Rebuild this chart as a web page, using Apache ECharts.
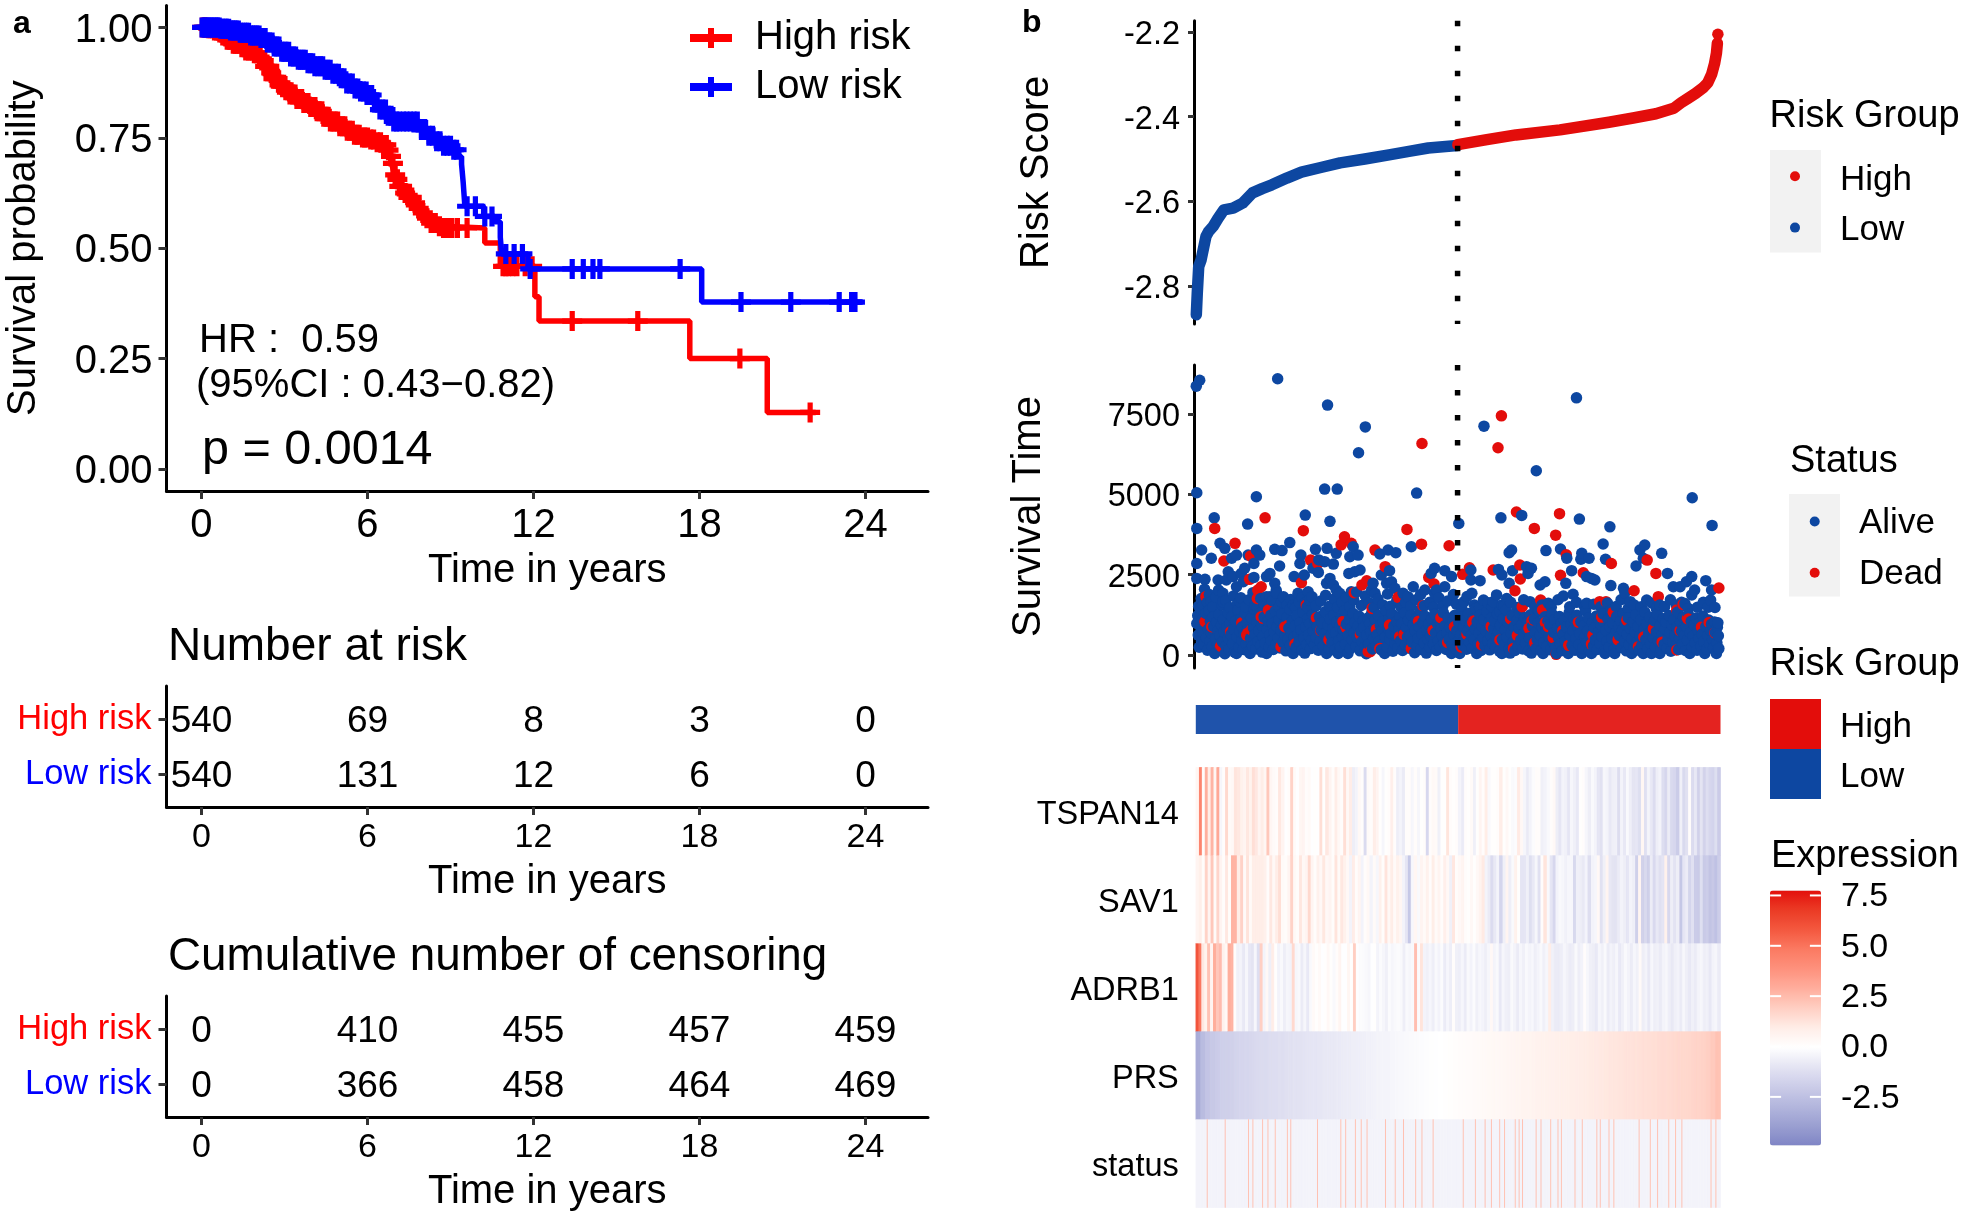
<!DOCTYPE html>
<html><head><meta charset="utf-8">
<style>html,body{margin:0;padding:0;background:#fff}#c{width:1961px;height:1216px}</style>
<script src="https://cdn.jsdelivr.net/npm/echarts@6/dist/echarts.min.js"></script>
</head><body><div id="c"></div>
<script>
// ---------- Panel a: Kaplan-Meier ----------
const timeTicks=[0,6,12,18,24];
const survTicks=[0,0.25,0.5,0.75,1];
const highCurve=[[0,1],[.2,.998],[.43,.993],[.7,.982],[.91,.972],[1.15,.963],[1.39,.955],[1.6,.948],[1.87,.942],[2.05,.933],[2.17,.925],[2.3,.912],[2.47,.897],[2.6,.884],[2.78,.87],[3,.858],[3.2,.848],[3.45,.838],[3.68,.829],[3.9,.82],[4.16,.81],[4.4,.798],[4.64,.787],[5,.776],[5.25,.766],[5.49,.757],[5.8,.751],[6.09,.746],[6.3,.74],[6.57,.734],[6.7,.722],[6.81,.708],[6.87,.692],[6.93,.678],[7,.666],[7.05,.656],[7.15,.64],[7.29,.625],[7.45,.615],[7.65,.603],[7.78,.59],[7.9,.58],[8.05,.568],[8.26,.557],[8.5,.55],[8.74,.546],[10.24,.512],[10.8,.459],[12.05,.39],[12.2,.335],[17.65,.25],[20.45,.128],[22.2,.128]];
const lowCurve=[[0,1],[.67,.997],[1.0,.993],[1.39,.988],[1.75,.982],[2.11,.976],[2.35,.966],[2.6,.957],[2.9,.945],[3.2,.934],[3.5,.927],[3.8,.919],[4.1,.912],[4.4,.904],[4.7,.895],[5,.885],[5.25,.873],[5.49,.862],[5.75,.855],[5.97,.847],[6.2,.83],[6.45,.814],[6.7,.8],[6.93,.787],[7.9,.768],[8.15,.755],[8.38,.742],[8.7,.732],[9.1,.723],[9.3,.708],[9.4,.69],[9.46,.648],[9.52,.595],[10.2,.572],[10.6,.56],[10.8,.525],[10.85,.487],[11.8,.453],[18.08,.378],[23.9,.378]];
const highCensorTimes=[.03,.1,.16,.25,.31,.4,.47,.55,.62,.68,.77,.85,.93,1.0,1.06,1.15,1.22,1.3,1.37,1.46,1.55,1.6,1.7,1.78,1.85,1.95,2.02,2.1,2.18,2.25,2.3,2.38,2.45,2.52,2.6,2.66,2.75,2.82,2.9,2.97,3.05,3.12,3.2,3.3,3.38,3.45,3.55,3.62,3.7,3.78,3.85,3.95,4.02,4.1,4.18,4.25,4.35,4.42,4.5,4.58,4.66,4.75,4.83,4.92,5.0,5.1,5.18,5.27,5.35,5.45,5.53,5.62,5.7,5.82,5.9,6.0,6.12,6.22,6.35,6.47,6.58,6.68,6.76,6.85,6.92,7.0,7.08,7.15,7.25,7.36,7.48,7.6,7.72,7.85,8.0,8.15,8.3,8.45,8.6,8.75,8.9,9.05,9.25,9.6,10.9,11.0,11.1,11.25,11.4,11.7,11.95,13.4,15.77,19.46,22.0];
const lowCensorTimes=[.02,.09,.14,.2,.26,.33,.38,.45,.52,.58,.64,.7,.77,.85,.9,.98,1.05,1.12,1.18,1.25,1.33,1.4,1.47,1.55,1.63,1.7,1.78,1.85,1.92,2.0,2.08,2.15,2.22,2.3,2.38,2.46,2.55,2.63,2.72,2.8,2.9,2.98,3.05,3.15,3.22,3.32,3.4,3.5,3.58,3.67,3.75,3.85,3.93,4.02,4.1,4.2,4.3,4.38,4.47,4.56,4.65,4.75,4.85,4.95,5.05,5.15,5.25,5.35,5.45,5.55,5.65,5.75,5.85,5.95,6.05,6.15,6.25,6.35,6.45,6.55,6.65,6.75,6.85,6.95,7.05,7.15,7.3,7.42,7.55,7.68,7.8,7.95,8.1,8.22,8.35,8.5,8.62,8.75,8.88,9.0,9.12,9.22,9.6,9.9,10.24,10.5,11.0,11.3,11.6,11.88,13.4,13.8,14.15,14.4,17.3,19.5,21.3,23.05,23.5,23.62];
const tableTimes=[0,6,12,18,24];
const highAtRisk=[540,69,8,3,0];
const lowAtRisk=[540,131,12,6,0];
const highCensored=[0,410,455,457,459];
const lowCensored=[0,366,458,464,469];

// ---------- Panel b: risk score (sorted rank, score) ----------
const scoreTicks=[-2.8,-2.6,-2.4,-2.2];
const scoreLow=[[1,-2.868],[3,-2.817],[6,-2.754],[11,-2.738],[21,-2.683],[26,-2.672],[36,-2.659],[46,-2.64],[58,-2.62],[77,-2.616],[97,-2.604],[117,-2.58],[137,-2.57],[157,-2.561],[188,-2.545],[218,-2.531],[258,-2.52],[298,-2.509],[349,-2.5],[399,-2.49],[440,-2.482],[480,-2.474],[540,-2.468]];
const scoreHigh=[[541,-2.466],[601,-2.454],[661,-2.443],[752,-2.431],[853,-2.413],[903,-2.403],[950,-2.393],[987,-2.38],[1002,-2.367],[1017,-2.356],[1032,-2.345],[1047,-2.332],[1057,-2.32],[1065,-2.30],[1071,-2.275],[1075,-2.25],[1077,-2.226]];
const scoreTop=[[1078,-2.205]];

// ---------- Panel b: survival time scatter (rank, days) ----------
const timeAxisTicks=[0,2500,5000,7500];
const aliveUpper=[[1,8370],[8,8555],[169,8600],[272,7780],[350,7100],[336,6295],[595,7125],[786,8005],[703,5735],[2,5050],[125,4925],[266,5165],[292,5165],[456,5040],[1025,4895],[2,3940],[38,4270],[107,4075],[226,4355],[277,4160],[543,4095],[630,4270],[673,4345],[792,4230],[855,3990],[1066,4035]];
const aliveMiddle=[[12,3270],[2,2850],[32,3010],[50,3480],[60,3320],[74,3010],[84,3110],[108,3110],[125,3270],[132,3110],[120,2850],[101,2700],[94,2540],[163,3290],[178,3250],[194,3500],[217,3110],[215,2850],[173,2770],[153,2540],[146,2440],[203,2440],[224,2490],[247,3290],[271,3320],[254,2960],[266,2905],[284,2830],[290,3165],[242,2700],[253,2570],[325,3370],[318,3060],[335,3110],[316,2540],[328,2590],[339,2645],[380,3145],[397,3270],[413,3185],[445,3370],[400,2625],[383,2490],[394,2230],[277,2385],[270,2230],[284,2180],[290,2025],[297,1920],[321,1970],[366,2230],[363,2025],[370,1920],[404,2280],[411,2075],[428,1920],[449,2125],[493,2700],[486,2540],[514,2625],[528,2440],[514,2125],[497,2025],[473,2025],[438,1815],[493,1920],[2,2385],[19,2355],[46,2335],[67,2590],[77,2440],[84,2125],[56,1920],[63,2335],[120,2415],[98,2280],[163,2230],[153,1815],[167,1920],[211,1920],[232,1970],[235,1710],[201,1555],[56,1660],[32,1660],[15,1555],[91,1660],[122,1555],[146,1815],[177,1660],[225,1610],[652,3270],[647,3185],[723,3250],[753,3300],[766,3010],[797,3165],[795,2980],[812,3010],[841,3455],[846,2980],[927,3425],[917,3270],[924,3010],[962,3165],[909,2770],[974,2540],[568,2645],[568,2335],[587,2315],[625,2665],[632,2490],[654,2625],[647,2230],[683,2750],[693,2700],[686,2540],[776,2625],[764,2230],[721,2280],[711,2180],[807,2440],[817,2385],[824,2335],[857,2160],[883,2075],[886,1940],[986,2125],[1000,2125],[1013,2280],[1024,2440],[1053,2315],[1030,2025],[1024,1870],[1065,2025],[1063,1710],[1058,1485],[570,1920],[554,1660],[578,1450],[594,1710],[621,1870],[614,1660],[632,1555],[642,1760],[628,1350],[690,1660],[707,1400],[728,1610],[759,1835],[779,1890],[807,1610],[897,1660],[893,1450],[931,1710],[958,1555],[951,1450],[1003,1640],[1017,1450]];
const aliveShoulder=[[6,1520],[11,1760],[18,2050],[24,1640],[28,1880],[35,1490],[42,1800],[47,2020],[54,1560],[62,1700],[70,1480],[78,1840],[86,1590],[93,1780],[103,1500],[110,1720],[118,1940],[127,1480],[134,1760],[141,1590],[150,1500],[158,1690],[166,2010],[172,1490],[181,1810],[189,1560],[196,1730],[206,1480],[214,1640],[220,1790],[230,1500],[240,1810],[248,1530],[258,1680],[268,1860],[276,1520],[286,1750],[293,1490],[302,1640],[311,1800],[318,1500],[326,1720],[332,1960],[342,1540],[350,1840],[358,1620],[368,1480],[376,1740],[386,1560],[396,1900],[402,1520],[415,1700],[424,1480],[433,1640],[444,1520],[455,1720],[464,1880],[472,1530],[483,1640],[491,1490],[502,1780],[510,1520],[520,1680],[532,1880],[538,1580],[549,1480],[560,1820],[575,1560],[586,1490],[603,1630],[612,1500],[636,1500],[650,1640],[663,1480],[677,1720],[700,1500],[715,1560],[734,1490],[748,1720],[772,1500],[786,1640],[803,1490],[822,1580],[836,1500],[850,1620],[868,1510],[878,1720],[905,1560],[920,1500],[941,1620],[968,1500],[980,1720],[992,1560],[1010,1600],[1036,1490],[1048,1640],[1072,1480]];
const aliveBand=[[2,980],[4,1230],[5,620],[7,240],[9,1450],[10,860],[12,430],[14,1120],[15,700],[17,330],[19,960],[21,1290],[22,540],[24,150],[26,810],[27,1390],[29,420],[30,1050],[32,680],[34,260],[36,1180],[37,890],[39,50],[41,510],[43,1020],[45,330],[46,760],[48,1260],[50,600],[52,160],[53,940],[55,410],[57,1100],[58,720],[60,40],[62,280],[64,860],[66,1320],[67,520],[69,170],[71,980],[73,640],[75,1200],[76,350],[78,800],[80,90],[82,1050],[84,50],[85,560],[87,1400],[89,240],[91,730],[93,1120],[95,450],[96,880],[98,170],[100,620],[102,1280],[104,340],[105,990],[107,770],[109,110],[112,50],[113,520],[115,1150],[117,270],[119,850],[120,1430],[122,640],[124,190],[126,1040],[128,420],[130,760],[132,1300],[134,300],[136,930],[137,90],[139,570],[141,1180],[143,370],[146,50],[147,800],[149,1050],[151,250],[153,640],[155,1240],[156,440],[158,980],[160,170],[162,710],[164,1360],[166,330],[168,880],[170,520],[172,1100],[174,220],[176,760],[178,1280],[180,400],[182,950],[184,620],[186,130],[188,1170],[190,490],[192,840],[194,1420],[195,300],[197,700],[199,1060],[201,50],[203,560],[205,900],[207,240],[209,1230],[211,650],[213,410],[215,1000],[217,780],[219,140],[221,1330],[223,520],[225,60],[227,870],[229,330],[231,1130],[233,620],[235,980],[237,200],[239,460],[241,1260],[243,730],[245,310],[247,1060],[249,540],[251,890],[253,150],[255,1190],[257,420],[259,770],[261,1000],[263,280],[265,650],[267,1350],[270,50],[271,500],[273,930],[275,210],[277,1120],[279,620],[281,380],[283,820],[285,1240],[287,150],[289,690],[291,1030],[294,50],[295,450],[297,870],[299,260],[301,1170],[303,570],[305,780],[307,1380],[309,330],[311,960],[314,50],[315,620],[317,1100],[319,200],[321,830],[323,470],[325,1290],[327,690],[329,1010],[331,280],[333,550],[335,900],[337,1210],[339,130],[341,730],[343,420],[345,1060],[347,860],[349,250],[352,40],[353,620],[355,1150],[357,340],[359,980],[361,720],[363,1300],[365,190],[367,510],[369,860],[371,1090],[373,290],[375,640],[377,1240],[379,430],[381,920],[383,160],[385,770],[387,1040],[390,50],[391,560],[393,1370],[395,250],[397,830],[399,1110],[401,480],[403,680],[405,1280],[407,120],[409,900],[411,370],[413,590],[415,1050],[417,220],[419,780],[421,1190],[423,450],[425,980],[427,140],[429,700],[431,1320],[433,320],[435,850],[437,560],[439,1090],[441,210],[443,630],[445,1240],[447,400],[449,940],[452,70],[453,760],[455,1130],[457,290],[459,520],[461,880],[463,1400],[465,170],[467,650],[469,1020],[471,380],[473,1210],[476,60],[477,780],[479,490],[481,960],[483,240],[485,590],[487,1120],[489,820],[491,330],[493,1270],[495,690],[497,140],[499,970],[501,440],[503,1060],[505,250],[507,820],[509,590],[511,1320],[513,370],[515,920],[517,170],[519,700],[521,1150],[523,480],[525,860],[528,50],[529,300],[531,1040],[533,630],[535,1240],[537,200],[539,760],[541,420],[543,1000],[545,50],[547,640],[549,1180],[551,300],[553,860],[555,520],[557,1080],[559,180],[561,740],[563,1290],[565,400],[567,960],[569,620],[571,210],[573,1130],[575,480],[577,820],[580,50],[581,1040],[583,340],[585,690],[587,1240],[589,140],[591,900],[593,520],[595,1100],[597,280],[599,760],[601,1350],[603,440],[605,990],[607,160],[609,620],[611,1170],[613,350],[615,830],[617,1060],[619,230],[621,560],[623,1280],[625,710],[627,120],[629,930],[632,50],[633,480],[635,1130],[637,300],[639,780],[641,1400],[643,550],[645,1010],[647,190],[649,60],[651,690],[653,1220],[655,390],[657,880],[659,140],[661,600],[663,1070],[665,280],[667,820],[669,1310],[671,470],[673,950],[675,190],[677,650],[679,1160],[681,360],[683,780],[685,1040],[687,130],[689,540],[691,1250],[693,60],[695,900],[697,310],[699,1110],[701,700],[703,210],[705,480],[707,1000],[709,1360],[711,620],[713,130],[715,860],[717,50],[719,390],[721,1190],[723,760],[725,270],[727,1060],[729,560],[731,940],[733,160],[735,1290],[737,430],[739,700],[741,1100],[743,240],[745,50],[747,830],[749,520],[751,1200],[753,340],[755,990],[757,140],[759,650],[761,1080],[763,430],[765,870],[767,210],[769,50],[771,1320],[773,600],[775,960],[777,300],[779,760],[781,1130],[783,150],[785,500],[787,1240],[789,850],[791,330],[793,660],[795,1040],[797,50],[799,220],[801,920],[803,560],[805,1370],[807,390],[809,760],[811,1150],[813,130],[815,620],[817,50],[819,1010],[821,280],[823,840],[825,480],[827,1210],[829,170],[831,700],[833,1080],[835,360],[837,950],[839,580],[841,1280],[843,120],[845,50],[847,770],[849,420],[851,1120],[853,250],[855,880],[857,1390],[859,520],[861,1000],[863,170],[865,50],[867,680],[869,1200],[871,350],[873,900],[875,600],[877,1070],[879,230],[881,780],[883,1300],[885,440],[887,960],[889,130],[891,640],[893,1150],[895,320],[897,830],[900,50],[901,510],[903,1030],[905,210],[907,720],[909,1250],[911,400],[913,890],[915,150],[917,600],[919,1100],[921,300],[924,50],[925,790],[927,1340],[929,480],[931,980],[933,190],[935,670],[937,1180],[939,360],[941,50],[943,850],[945,540],[947,1060],[949,240],[951,720],[953,1280],[955,430],[958,50],[959,920],[961,150],[963,610],[965,1130],[967,330],[969,810],[971,1020],[973,200],[975,500],[977,1230],[979,700],[981,120],[983,940],[985,410],[987,1090],[989,600],[991,280],[993,860],[995,1340],[997,170],[999,520],[1001,1010],[1003,740],[1005,340],[1007,1170],[1009,620],[1011,140],[1013,880],[1015,460],[1017,1260],[1020,50],[1021,700],[1023,1050],[1025,240],[1027,580],[1029,930],[1031,380],[1033,1150],[1035,150],[1037,780],[1039,520],[1041,1020],[1043,280],[1045,650],[1047,1210],[1049,410],[1051,50],[1053,880],[1055,180],[1057,600],[1059,1090],[1061,330],[1063,760],[1065,960],[1067,490],[1069,230],[1071,1030],[1073,700],[1075,50],[1076,380],[1077,860],[1078,1000],[1079,600],[1080,200]];
const deadPoints=[[467,6585],[631,7445],[624,6450],[39,3940],[143,4270],[222,3870],[436,3910],[466,3450],[523,3400],[662,4450],[751,4400],[699,3940],[743,3730],[765,3120],[858,2850],[932,2955],[950,2540],[905,2000],[955,1815],[1080,2085],[753,2480],[669,2800],[670,2365],[659,2000],[614,2645],[551,2510],[565,2715],[307,3680],[300,3430],[321,3475],[81,3475],[370,3265],[237,2955],[252,2850],[58,2925],[113,3080],[391,2750],[353,2310],[343,2180],[218,2250],[111,2355],[135,2125],[128,2020],[127,1760],[21,1815],[327,1940],[481,2415],[492,2210],[418,1795],[469,1535],[364,1450],[228,1555],[800,2560],[712,1710],[716,1400],[674,1500],[834,1660],[847,1660],[862,1330],[1006,1575],[993,1400],[1015,1140],[694,1060],[729,880],[744,20],[506,1160],[249,1160],[135,1190],[107,675],[51,260],[176,260],[360,100],[993,155],[22,1815],[139,1140],[150,1400],[115,780],[105,620],[177,260],[53,260],[356,100],[19,1040],[304,1040],[373,800],[445,205],[184,880],[421,570],[574,1060],[697,1090],[728,880],[1017,1120],[914,260],[656,205],[817,340],[963,400],[1000,760],[1044,870],[1060,1010],[1072,690],[945,820],[925,560],[890,1080],[872,470],[838,1180],[820,620],[790,1020],[770,300],[758,760],[738,540],[722,1010],[700,380],[688,830],[664,610],[650,1120],[628,470],[610,890],[590,320],[572,1010],[560,640],[548,250],[534,880],[520,390],[490,760],[460,1050],[430,640],[400,930],[380,200],[340,640],[310,860],[275,480],[258,760],[205,340],[190,920],[95,1000],[72,720],[33,880]];

// ---------- Panel b: risk group band ----------
const groupCounts=[540,540];

// ---------- Panel b: heatmap, values per block of ranks ----------
const geneRows=['TSPAN14','SAV1','ADRB1','PRS','status'];
const tspan14=[.5,4.5,.2,3,1,2.8,.5,3.2,-.3,.2,1.7,.3,.4,1.3,1.2,.8,.6,1.2,.7,1.5,1.2,.6,1,.5,2.2,.5,.3,.2,1.2,.6,0,.2,1.9,.3,0,.5,.6,.2,.3,0,.1,0,1.5,.1,1.2,.6,.2,1,.4,.2,1.5,.4,1,-.6,-.4,.4,.2,-1.3,.3,.2,1,.6,.1,-.3,.1,.2,.9,.2,-.6,-.4,-.7,.2,.2,-.3,.2,-.3,.1,.2,-1.5,.2,.4,.3,-.5,.1,.1,1.3,.2,.1,.2,-.4,-.7,.2,.1,.3,-.5,.1,.6,.2,1,-.2,.1,.1,.2,1,.1,.4,.1,-.2,-.1,1.1,.4,-.3,-.7,-.4,-.1,.2,.2,-.5,-.4,-.2,.2,.4,-.6,-.9,-.4,-.5,-.9,-.3,-.5,-.8,.1,.2,-.3,-.6,-.2,-.4,-.9,-1.1,-.3,-.4,-.8,-.6,-.5,-1.3,-.4,-.8,-.2,-.6,-1,-.9,-1.2,.5,-1.1,-.4,-.8,-1.3,-.6,-.4,-1.2,-1.5,-.7,-1.4,-1.5,-1.9,-.5,-1.4,-1.1,.2,-1.3,-.8,-1.7,-1,-1.7,-1.2,-1.5,-1.6,-1.2,-2];
const sav1=[.6,.9,.2,1.9,.6,2.2,.3,1.8,.6,.2,1.2,.2,2.8,2.8,1,1.9,.3,1.3,.3,1,1,1,1,.8,.2,1.2,.4,1,1.5,.3,.2,.6,1.9,.4,.2,1.2,.4,.6,1.7,.6,.2,.8,.4,1.2,.4,.6,.2,1.3,.3,1.2,.8,.4,-.4,1,.2,.6,-.4,.2,.4,-.4,.3,-.3,.8,.2,1.3,.4,1,.3,.8,.5,-.4,-.9,-2.2,-.3,.5,-.2,.6,.3,.8,.2,1,.3,.6,.2,.9,.4,-.5,1.2,.2,.4,.6,.2,.1,.4,.1,.4,.7,1.1,-.4,-.7,-1.3,-.8,-.4,-1.6,-.5,.6,-.6,-.2,.8,.1,-.9,-.9,-.5,-1.2,-.8,-.3,-1.1,.2,1.3,-.2,-.9,-1.5,-.4,-.2,-.3,-.5,-.3,-.3,-1.4,-.5,-.6,-.8,-.4,-1.2,-.4,-.3,.4,-1.1,-.5,.6,-.8,-1,-1,-.7,-.4,-.6,-.9,-.4,-.6,-1.8,.6,-1.7,-1.4,-1.8,-.7,-1.4,-.8,-1.1,-.9,.8,-1.5,-.6,-1,-.6,-2.2,-.9,-.7,-1.6,-1.1,-1.9,-2,-1.2,-2.1,-1.9,-2.3,-2.1,-2.4,-1.9];
const adrb1=[6,5,1.2,.7,2.4,.6,3,2.2,2.6,.8,.4,3,2.8,.2,-.5,-.4,-.8,-.3,-.8,-1,-.3,-1.2,2,-.4,.4,-.6,1,.1,-.4,-.2,-.6,-.3,-.4,1.7,-.3,-.2,-.7,-.3,-.8,-.2,.3,.1,.3,0,.1,.4,.1,-.2,.2,.6,0,0,.5,.1,2,0,-.1,-.1,-.2,-.3,0,.1,-.4,-.1,-.3,-.5,-.1,-.3,-.2,-.1,-.2,-.6,-.2,-.3,-.2,2.5,-.1,1.3,-.4,-.5,-.3,-.6,-.2,-.4,-.1,-.7,-.3,-.6,.2,-.5,-.6,-.3,-.7,-.2,-.4,-.1,-.5,-.3,-.4,-.6,-.3,.4,-.4,-.2,-.8,-.3,-.5,-.6,-.2,-.4,-.7,-.3,-.5,-.2,-.4,-.3,-.6,-.4,-.2,-.5,-.3,1,-.5,-.7,-.7,-.6,-.3,-.5,-.7,-.6,-.2,-.6,-.4,.2,-.3,-.5,-.6,-.8,-.3,-.5,-.2,-.7,-.4,-.6,-.3,-.8,-.5,-.2,-.4,-.7,-.3,-.5,.3,-.6,-.4,-.8,-.3,-.6,-.5,-.7,-.4,-.3,-.6,-.8,-.5,-.4,-.7,-.3,-.6,-.8,-.5,-.7,-.4,-.3,-.6,-.5,-.8,-.4,-.3,-.7];
const prs=[-3.3,-2.7,-2.3,-2.1,-1.95,-1.85,-1.8,-1.72,-1.65,-1.58,-1.52,-1.46,-1.4,-1.36,-1.32,-1.27,-1.22,-1.18,-1.14,-1.1,-1.06,-1.02,-.98,-.94,-.9,-.87,-.83,-.8,-.76,-.72,-.68,-.64,-.6,-.57,-.53,-.49,-.46,-.42,-.38,-.35,-.31,-.27,-.24,-.2,-.16,-.12,-.08,-.05,-.02,0,.04,.08,.11,.15,.18,.22,.25,.28,.32,.35,.38,.42,.45,.48,.52,.55,.58,.62,.65,.68,.72,.75,.78,.82,.85,.88,.92,.95,.98,1.02,1.05,1.08,1.12,1.15,1.18,1.22,1.25,1.28,1.32,1.35,1.38,1.42,1.45,1.48,1.52,1.55,1.58,1.62,1.65,1.68,1.72,1.75,1.8,1.85,1.92,2.0,2.15,2.4];
const statusDeadRanks=[24,61,109,118,138,149,164,189,196,251,299,309,329,341,353,391,411,428,453,466,489,551,576,596,609,626,636,658,666,673,701,711,731,746,753,781,796,826,833,851,861,913,936,951,974,988,1001,1061,1071];
const statusAliveValue=-0.4;
const statusDeadValue=2.4;
const legendTicks=[-2.5,0,2.5,5,7.5];

// ---------- Colours / helpers ----------
const FONT='"Liberation Sans", Arial, sans-serif';
const RED='#FF0000',BLUE='#0000FF',DRED='#E30D0B',DBLUE='#0D47A1';
const rampStops=['#7F85C5','#9A9FD1','#B3B6DD','#CBCCE8','#E4E4F3','#FFFFFF','#FFEDE7','#FFCFC3','#FFAE9D','#FE917D','#FB7A62','#F3583F','#EB3B25','#E3100C'];
const PLUS='path://M37,0H63V37H100V63H63V100H37V63H0V37H37Z';
const KEY='path://M0,6H18V0H24V6H42V14H24V20H18V14H0Z';
const stepAt=(curve,t)=>{let v=curve[0][1];for(const p of curve){if(p[0]<=t)v=p[1];else break;}return v;};
const N=1080;
const binned=(arr,r)=>arr[Math.min(arr.length-1,Math.floor(r*arr.length/N))];

const ranks=[];for(let i=1;i<=N;i++)ranks.push(String(i));
const heat=[];
for(let r=0;r<N;r++){
  heat.push([r,0,binned(tspan14,r)]);
  heat.push([r,1,binned(sav1,r)]);
  heat.push([r,2,binned(adrb1,r)]);
  heat.push([r,3,binned(prs,r)]);
  heat.push([r,4,statusAliveValue]);
}
statusDeadRanks.forEach(rk=>heat.push([rk-1,4,statusDeadValue]));
const scatterAll=[...aliveUpper,...aliveMiddle,...aliveShoulder,...aliveBand].map(p=>[p[0],p[1],0]).concat(deadPoints.map(p=>[p[0],p[1],1])).sort((a,b)=>a[0]-b[0]);

// shifted tick label: rich-text padding moves the digits down onto the tick
const shifted=(size,top)=>({a:{fontSize:size,fontFamily:FONT,color:'#000',padding:[top,0,0,0]}});
const tAxis=(grid,labelSize,nameGap,margin)=>({type:'value',gridIndex:grid,min:-1.265,max:26.26,name:'Time in years',nameLocation:'middle',nameGap,nameTextStyle:{fontSize:40,fontFamily:FONT,color:'#000'},
  axisLine:{show:true,onZero:false,lineStyle:{color:'#000',width:3}},axisTick:{show:true,length:8,customValues:timeTicks,lineStyle:{color:'#333',width:3}},
  axisLabel:{customValues:timeTicks,fontSize:labelSize,fontFamily:FONT,color:'#000',margin},splitLine:{show:false}});
const rowAxis=grid=>({type:'value',gridIndex:grid,min:0.4,max:2.6,axisLine:{show:true,onZero:false,lineStyle:{color:'#000',width:3}},
  axisTick:{show:true,length:8,customValues:[1,2],lineStyle:{color:'#333',width:3}},
  axisLabel:{customValues:[1,2],margin:15,formatter:v=>Number(v)===2?'{h|High risk}':'{l|Low risk}',rich:{h:{color:RED,fontSize:34.5,fontFamily:FONT},l:{color:BLUE,fontSize:34.5,fontFamily:FONT}}},splitLine:{show:false}});
const tableSeries=(name,grid,row,vals)=>({type:'scatter',name,xAxisIndex:grid,yAxisIndex:grid,symbolSize:1,itemStyle:{color:'rgba(0,0,0,0)',opacity:1},silent:true,
  data:tableTimes.map((t,i)=>[t,row,vals[i]]),label:{show:true,position:'inside',offset:[0,3],formatter:p=>'{n|'+p.value[2]+'}',rich:{n:{fontSize:37,fontFamily:FONT,color:'#000',textBorderWidth:0,textBorderColor:'transparent'}}}});
const rankAxis=g=>({type:'value',gridIndex:g,min:-3.75,max:1086.5,show:false});
const cut=(g,lo,hi)=>({type:'line',xAxisIndex:g,yAxisIndex:g,data:[[540.5,hi],[540.5,lo]],symbol:'none',z:20,silent:true,lineStyle:{color:'#000',width:5.5,type:[5.5,19.5]}});
const leftAxis=(g,lo,hi,ticks,nameText,nameGap,fmt)=>({type:'value',gridIndex:g,min:lo,max:hi,name:nameText,nameLocation:'middle',nameGap,nameTextStyle:{fontSize:40,fontFamily:FONT,color:'#000'},
  axisLine:{show:true,onZero:false,lineStyle:{color:'#000',width:3}},axisTick:{show:true,length:6,customValues:ticks,lineStyle:{color:'#333',width:3}},
  axisLabel:{customValues:ticks,margin:14,formatter:v=>'{a|'+fmt(v)+'}',rich:shifted(32.5,6)},splitLine:{show:false}});

const txt=(text,x,y,size,extra)=>({type:'text',x,y,z:50,silent:true,style:Object.assign({text,fontSize:size,fontFamily:FONT,fill:'#000',verticalAlign:'middle',align:'left'},extra||{})});
const rect=(x,y,w,h,fill)=>({type:'rect',z:40,silent:true,shape:{x,y,width:w,height:h},style:{fill}});
const dot=(cx,cy,fill)=>({type:'circle',z:45,silent:true,shape:{cx,cy,r:5},style:{fill}});
const barTick=(name,xPos)=>({type:'scatter',name,xAxisIndex:7,yAxisIndex:7,symbol:'rect',symbolSize:[11,2],z:20,silent:true,itemStyle:{color:'#fff',opacity:1},data:legendTicks.map(v=>[xPos,v])});

const option={
  animation:false,backgroundColor:'#fff',
  textStyle:{fontFamily:FONT},
  legend:{orient:'vertical',left:685,top:13,itemWidth:42,itemHeight:20,itemGap:9,data:['High risk','Low risk'],icon:KEY,selectedMode:false,
    textStyle:{fontSize:40,fontFamily:FONT,color:'#000',padding:[0,0,0,18]}},
  grid:[
    {left:166.5,width:761.5,top:5.4,height:485.6},
    {left:166.5,width:761.5,top:686,height:121},
    {left:166.5,width:761.5,top:996,height:121},
    {left:1194,width:528,top:20.7,height:303.3},
    {left:1194,width:528,top:365,height:303},
    {left:1195.8,width:524.7,top:705,height:29},
    {left:1195.8,width:524.7,top:767.5,height:440},
    {left:1770,width:51,top:889,height:255}
  ],
  xAxis:[tAxis(0,40,60,15),tAxis(1,34,55,14),tAxis(2,34,55,14),rankAxis(3),rankAxis(4),
    {type:'value',gridIndex:5,min:0,max:N,show:false},
    {type:'category',gridIndex:6,data:ranks,show:false},
    {type:'value',gridIndex:7,min:0,max:1,show:false}],
  yAxis:[
    {type:'value',gridIndex:0,min:-0.05,max:1.05,name:'Survival probability',nameLocation:'middle',nameGap:123,nameTextStyle:{fontSize:40,fontFamily:FONT,color:'#000'},
     axisLine:{show:true,onZero:false,lineStyle:{color:'#000',width:3}},axisTick:{show:true,length:8,customValues:survTicks,lineStyle:{color:'#333',width:3}},
     axisLabel:{customValues:survTicks,margin:14,formatter:v=>'{a|'+Number(v).toFixed(2)+'}',rich:shifted(40,6)},splitLine:{show:false}},
    rowAxis(1),rowAxis(2),
    leftAxis(3,-2.89,-2.173,scoreTicks,'Risk Score',137.5,v=>Number(v).toFixed(1)),
    leftAxis(4,-405,9028,timeAxisTicks,'Survival Time',145,v=>String(v)),
    {type:'category',gridIndex:5,data:[''],show:false},
    {type:'category',gridIndex:6,data:geneRows,inverse:true,axisLine:{show:false},axisTick:{show:false},splitLine:{show:false},
     axisLabel:{margin:17,formatter:v=>'{a|'+v+'}',rich:shifted(32.5,7)}},
    {type:'value',gridIndex:7,min:-4.84,max:7.82,position:'right',axisLine:{show:false},splitLine:{show:false},
     axisTick:{show:false},
     axisLabel:{customValues:legendTicks,margin:20,formatter:v=>'{a|'+Number(v).toFixed(1)+'}',rich:shifted(34,3)}}
  ],
  visualMap:{type:'continuous',seriesIndex:0,dimension:2,min:-4.84,max:7.82,calculable:false,hoverLink:false,left:1755,top:875.5,itemWidth:51,itemHeight:255,text:null,
    inRange:{color:rampStops},textStyle:{color:'transparent',fontSize:1}},
  series:[
    {type:'heatmap',xAxisIndex:6,yAxisIndex:6,data:heat,progressive:0,silent:true},
    {type:'line',name:'High risk',xAxisIndex:0,yAxisIndex:0,step:'end',data:highCurve,symbol:'none',z:3,lineStyle:{color:RED,width:5.5},itemStyle:{color:RED}},
    {type:'scatter',name:'High censor',xAxisIndex:0,yAxisIndex:0,symbol:PLUS,symbolSize:20,z:3,itemStyle:{color:RED,opacity:1},data:highCensorTimes.map(t=>[t,stepAt(highCurve,t)])},
    {type:'line',name:'Low risk',xAxisIndex:0,yAxisIndex:0,step:'end',data:lowCurve,symbol:'none',z:4,lineStyle:{color:BLUE,width:5.5},itemStyle:{color:BLUE}},
    {type:'scatter',name:'Low censor',xAxisIndex:0,yAxisIndex:0,symbol:PLUS,symbolSize:20,z:4,itemStyle:{color:BLUE,opacity:1},data:lowCensorTimes.map(t=>[t,stepAt(lowCurve,t)])},
    tableSeries('n high',1,2,highAtRisk),tableSeries('n low',1,1,lowAtRisk),
    tableSeries('c high',2,2,highCensored),tableSeries('c low',2,1,lowCensored),
    {type:'line',name:'Score low',xAxisIndex:3,yAxisIndex:3,data:scoreLow,symbol:'none',clip:false,z:3,lineStyle:{color:DBLUE,width:11.5,cap:'round',join:'round'}},
    {type:'line',name:'Score high',xAxisIndex:3,yAxisIndex:3,data:scoreHigh,symbol:'none',clip:false,z:4,lineStyle:{color:DRED,width:11.5,cap:'round',join:'round'}},
    {type:'scatter',name:'Score top',xAxisIndex:3,yAxisIndex:3,data:scoreTop,symbolSize:11.5,clip:false,z:4,itemStyle:{color:DRED,opacity:1}},
    cut(3,-2.89,-2.173),
    {type:'scatter',name:'Survival',xAxisIndex:4,yAxisIndex:4,data:scatterAll,symbolSize:11.5,z:3,large:false,itemStyle:{opacity:1,color:p=>p.value[2]?DRED:DBLUE}},
    cut(4,-405,9028),
    {type:'bar',name:'Low',xAxisIndex:5,yAxisIndex:5,stack:'g',barWidth:'100%',data:[groupCounts[0]],itemStyle:{color:'#1F53AB'},silent:true},
    {type:'bar',name:'High',xAxisIndex:5,yAxisIndex:5,stack:'g',barWidth:'100%',data:[groupCounts[1]],itemStyle:{color:'#E42320'},silent:true},
    barTick('bar tick left',0.11),barTick('bar tick right',0.89)
  ],
  graphic:[
    txt('a',13,24,32,{fontWeight:'bold'}),
    txt('b',1022,23,32,{fontWeight:'bold'}),
    txt('HR :  0.59',199,341,40),
    txt('(95%CI : 0.43\u22120.82)',196,386,40),
    txt('p = 0.0014',202,451,48.5),
    txt('Number at risk',168,647,46),
    txt('Cumulative number of censoring',168,957,45.8),
    txt('Risk Group',1769.5,117,38),
    rect(1770,150,51,51,'#F2F2F2'),rect(1770,201,51,51.5,'#F2F2F2'),
    dot(1795,176.3,DRED),dot(1795,227.6,DBLUE),
    txt('High',1840,180,35),txt('Low',1840,230,35),
    txt('Status',1790,462,38),
    rect(1789,494,51,51,'#F2F2F2'),rect(1789,545,51,51.5,'#F2F2F2'),
    dot(1814.7,521.5,DBLUE),dot(1814.7,572.8,DRED),
    txt('Alive',1859,523.5,35),txt('Dead',1859,574.5,35),
    txt('Risk Group',1769.5,664.5,38),
    rect(1770,699,51,50,DRED),rect(1770,749,51,50,DBLUE),
    txt('High',1840,727.5,35),txt('Low',1840,777.5,35),
    txt('Expression',1771,857,38)
  ]
};
echarts.init(document.getElementById('c'),null,{renderer:'canvas'}).setOption(option);
</script></body></html>
